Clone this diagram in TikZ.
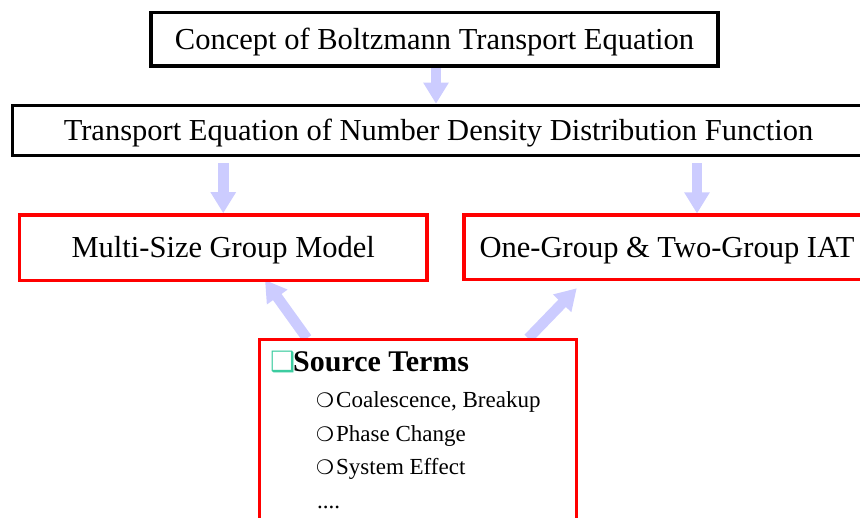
\documentclass[tikz,border=0pt]{standalone}
\usepackage{fontspec}
\setmainfont{Liberation Serif}
\newfontfamily\dingfont{DejaVu Sans}
\usetikzlibrary{arrows.meta,calc}
\definecolor{lav}{RGB}{204,204,255}
\definecolor{boxred}{RGB}{255,0,0}
\definecolor{tealb}{RGB}{60,204,160}
\pgfdeclarelayer{bg}
\pgfsetlayers{bg,main}
\begin{document}
\begin{tikzpicture}[x=1pt,y=-1pt,
  blackbox/.style={draw=black, fill=white, line width=3.5pt, inner sep=0pt,
    text height=20.2pt, text depth=0pt, font=\fontsize{30.5}{36}\selectfont},
  redbox/.style={blackbox, draw=boxred},
  flow/.style={draw=lav, line width=10.5pt, -{Triangle[width=24pt,length=21pt]}},
  item/.style={anchor=base west, inner sep=0pt, font=\fontsize{23}{27}\selectfont}]
\useasboundingbox (0,0) rectangle (860,518);
\clip (0,0) rectangle (860,518);
% boxes
\node[blackbox, minimum width=567pt, minimum height=53.5pt] (top) at (434.5,39.25)
  {Concept of Boltzmann Transport Equation};
\node[blackbox, minimum width=852pt, minimum height=50pt] (tef) at (438.5,130.5)
  {Transport Equation of Number Density Distribution Function};
\node[redbox, minimum width=407.5pt, minimum height=65.5pt] (msg) at (223.25,247.75)
  {Multi-Size Group Model};
\node[redbox, minimum width=406pt, minimum height=64.5pt] (iat) at (667,247.5)
  {One-Group \& Two-Group IAT};
\node[draw=boxred, fill=white, line width=3pt, inner sep=0pt,
  minimum width=316.7pt, minimum height=200.7pt] (src) at (418.3,439.7) {};
% source box contents
\node[item, font=\fontsize{30}{36}\selectfont\bfseries] (hd) at (270,372)
  {\makebox[23pt][l]{\dingfont\fontsize{28}{32}\selectfont\color{tealb}❑}Source Terms};
\node[item] (i1) at (316,408)
  {\makebox[20pt][l]{\dingfont\fontsize{20}{22}\selectfont ❍}Coalescence, Breakup};
\node[item] (i2) at (316,441.5)
  {\makebox[20pt][l]{\dingfont\fontsize{20}{22}\selectfont ❍}Phase Change};
\node[item] (i3) at (316,474.5)
  {\makebox[20pt][l]{\dingfont\fontsize{20}{22}\selectfont ❍}System Effect};
\node[item] (i4) at (317,508) {....};
% connectors
\coordinate (xa) at (436,0);
\coordinate (xb) at (697,0);
\path (src.north west) ++(48.5,0.5) coordinate (s1);
\path (msg.south west) ++(247.25,-2.25) coordinate (t1);
\path (src.north west) ++(269.8,0.5) coordinate (s2);
\path (iat.south west) ++(114.5,6.75) coordinate (t2);
\begin{pgfonlayer}{bg}
\draw[flow] (top.south -| xa) -- (tef.north -| xa);
\draw[flow, shorten <=6pt] (msg.north |- tef.south) -- (msg.north);
\draw[flow, shorten <=6pt] (tef.south -| xb) -- (iat.north -| xb);
\draw[flow] (s1) -- (t1);
\draw[flow] (s2) -- (t2);
\end{pgfonlayer}
\end{tikzpicture}
\end{document}
